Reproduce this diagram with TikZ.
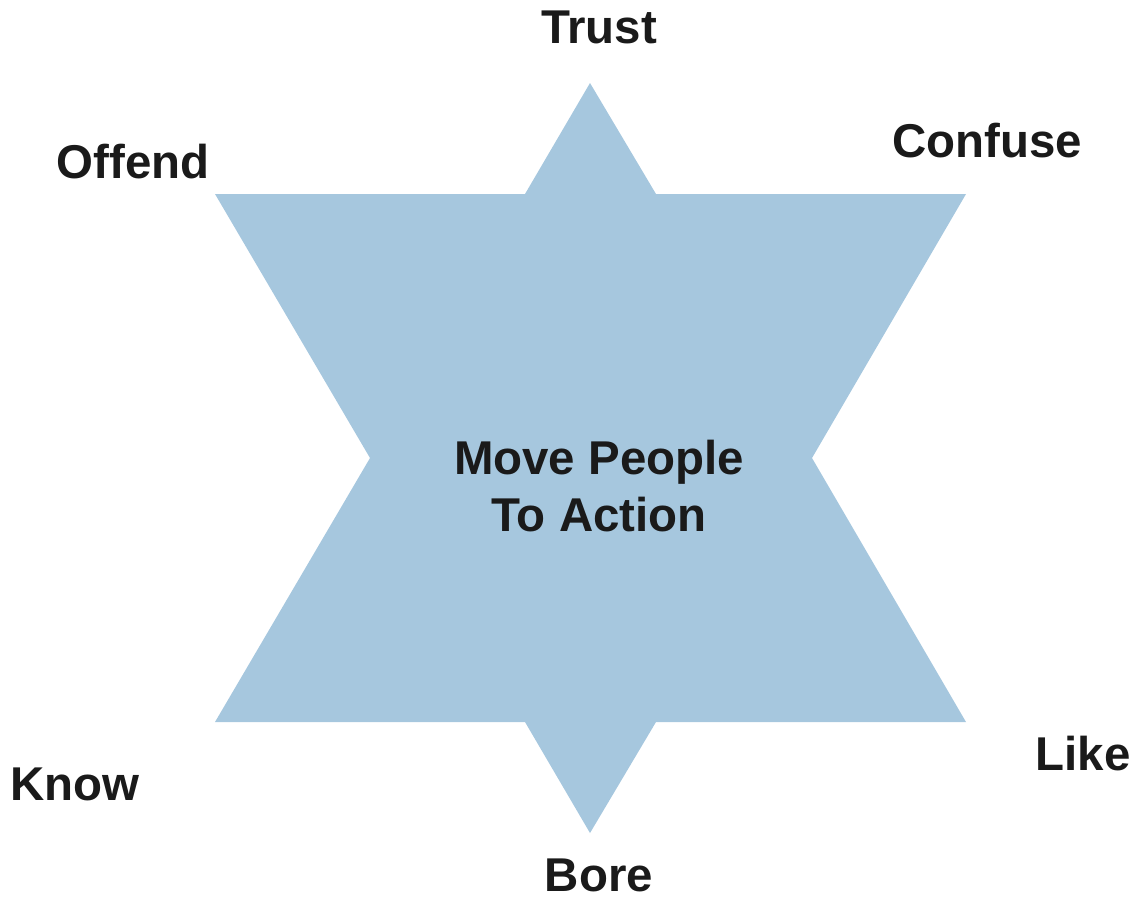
\documentclass[tikz,border=0pt]{standalone}
\usepackage{fontspec}
\setmainfont{Liberation Sans}

\begin{document}
\begin{tikzpicture}[x=0.02cm,y=-0.02cm]
    % Define star colors
    \definecolor{starblue}{RGB}{166,199,222}
    \definecolor{wordgray}{RGB}{26,26,26}
    \tikzset{word/.style={font=\fontsize{27}{32}\selectfont\bfseries, text=wordgray, inner sep=0pt, anchor=base}}

    \useasboundingbox (0,0) rectangle (1138,897);

    % Draw the six-pointed star
    \fill[starblue] (590,83) -- (656,194) -- (966,194) -- (812,458) -- (966,722)
        -- (656,722) -- (590,833) -- (525,722) -- (215,722) -- (370,458)
        -- (215,194) -- (525,194) -- cycle;

    % Add the text in the middle
    \node[word] (move) at (599,474) {Move People};
    \node[word] (action) at (599,531) {To Action};

    % Add the words round the star
    \node[word] (trust) at (599,43) {Trust};
    \node[word] (confuse) at (987,157) {Confuse};
    \node[word] (offend) at (133,178) {Offend};
    \node[word] (know) at (75,800) {Know};
    \node[word] (like) at (1083,770) {Like};
    \node[word] (bore) at (599,891) {Bore};
\end{tikzpicture}
\end{document}
